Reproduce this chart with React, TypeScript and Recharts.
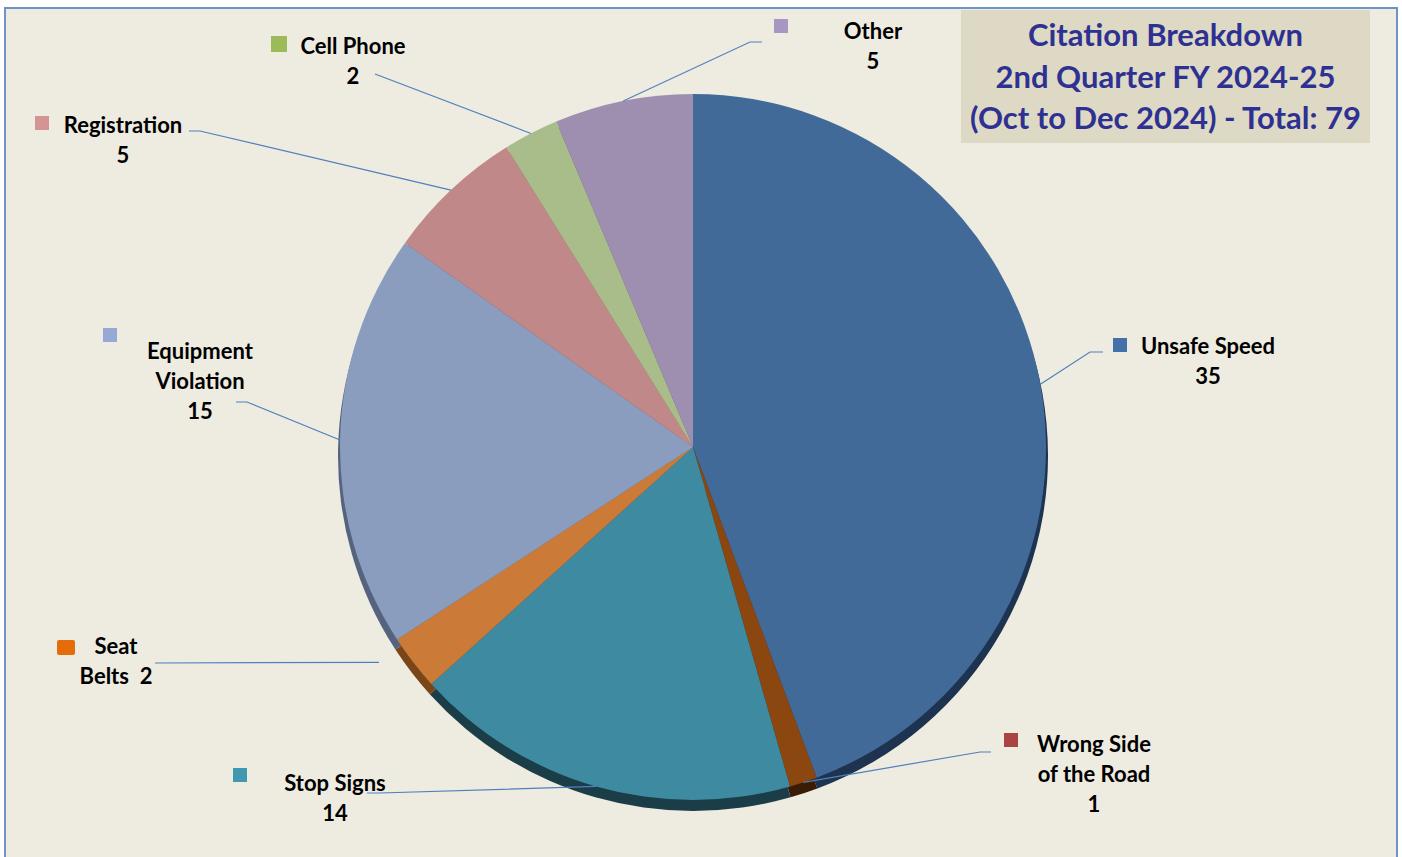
import { PieChart, Pie, Cell } from "recharts";

const categories = [
  "Unsafe Speed",
  "Wrong Side of the Road",
  "Stop Signs",
  "Seat Belts",
  "Equipment Violation",
  "Registration",
  "Cell Phone",
  "Other",
];
const citations = [35, 1, 14, 2, 15, 5, 2, 5];
const labelLines = [
  ["Unsafe Speed"],
  ["Wrong Side", "of the Road"],
  ["Stop Signs"],
  ["Seat", "Belts"],
  ["Equipment", "Violation"],
  ["Registration"],
  ["Cell Phone"],
  ["Other"],
];
const titleLines = [
  "Citation Breakdown",
  "2nd Quarter FY 2024-25",
  "(Oct to Dec 2024) - Total: 79",
];

const sliceColors = ["#426a98", "#8c4710", "#3e8aa0", "#cb7a38", "#8a9dbe", "#c08888", "#a9bd8a", "#9e8fb0"];
const shadowColors = ["#1e3350", "#3a1c06", "#1b3d47", "#7a4518", "#56637e", "#7d5656", "#6d7a58", "#655a72"];
const legendColors = ["#4472a8", "#a94442", "#4199b1", "#e46c0a", "#95a9d4", "#d49494", "#9bbb59", "#a896c2"];

// label placement: marker box, text centre, leader line bends
const labelLayout = [
  { box: [1113, 338, 14, 14], tx: 1208, ty: 345, pts: [[1090, 352], [1103, 352]] },
  { box: [1004, 733, 14, 14], tx: 1094, ty: 743, pts: [[980, 752], [991, 752]] },
  { box: [233, 768, 14, 14], tx: 335, ty: 782, pts: [[380, 793], [367, 793]] },
  { box: [57, 640, 18, 15], tx: 116, ty: 645, pts: [[155, 663]], inline: true, edge: 379 },
  { box: [103, 328, 14, 14], tx: 200, ty: 350, pts: [[247, 402], [236, 402]] },
  { box: [35, 116, 14, 14], tx: 123, ty: 124, pts: [[200, 131], [189, 131]] },
  { box: [271, 36, 16, 16], tx: 353, ty: 45, pts: [[375, 74]] },
  { box: [774, 19, 14, 14], tx: 873, ty: 30, pts: [[750, 42], [762, 42]] },
];

const data = categories.map((name, i) => ({ name, value: citations[i] }));
const RAD = Math.PI / 180;
const FONT = "Lato, 'Open Sans', sans-serif";

function renderLabel(props: any) {
  const { cx, cy, midAngle, outerRadius, index } = props;
  const lay = labelLayout[index];
  let sx = cx + outerRadius * Math.cos(-midAngle * RAD);
  const sy = cy + outerRadius * Math.sin(-midAngle * RAD);
  if (lay.edge) sx = lay.edge;
  const pts = [[sx, sy], ...lay.pts].map((p) => p.join(",")).join(" ");
  const lines = lay.inline
    ? [labelLines[index][0], `${labelLines[index][1]}\u00a0\u00a0${citations[index]}`]
    : [...labelLines[index], String(citations[index])];
  return (
    <g key={`lbl-${index}`}>
      <polyline points={pts} fill="none" stroke="#4f81bd" strokeWidth={1.2} />
      <rect
        x={lay.box[0]}
        y={lay.box[1]}
        width={lay.box[2]}
        height={lay.box[3]}
        rx={lay.inline ? 2 : 0}
        fill={legendColors[index]}
      />
      {lines.map((t, j) => (
        <text
          key={j}
          x={lay.tx}
          y={lay.ty + j * 30}
          textAnchor="middle"
          dominantBaseline="central"
          fontFamily={FONT}
          fontWeight="bold"
          fontSize={22}
          fill="#000"
        >
          {t}
        </text>
      ))}
    </g>
  );
}

export default function App() {
  return (
    <div
      style={{
        position: "absolute",
        left: 0,
        top: 0,
        width: 1402,
        height: 857,
        background: "#fff",
        overflow: "hidden",
      }}
    >
      <div
        style={{
          position: "absolute",
          left: 4,
          top: 7,
          width: 1390,
          height: 870,
          background: "#eeebe0",
          border: "2px solid #6f93c8",
        }}
      />
      <div
        style={{
          position: "absolute",
          left: 961,
          top: 10,
          width: 409,
          height: 133,
          background: "#ddd9c4",
          color: "#2e3192",
          fontFamily: FONT,
          fontWeight: "bold",
          fontSize: 31,
          lineHeight: "41.5px",
          textAlign: "center",
          paddingTop: 4,
          boxSizing: "border-box",
          whiteSpace: "nowrap",
        }}
      >
        {titleLines.map((t) => (
          <div key={t}>{t}</div>
        ))}
      </div>
      <div style={{ position: "absolute", left: 0, top: 0 }}>
        <PieChart width={1402} height={857} margin={{ top: 0, right: 0, bottom: 0, left: 0 }}>
          <Pie
            data={data}
            dataKey="value"
            cx={693}
            cy={456}
            outerRadius={355}
            startAngle={90}
            endAngle={-270}
            stroke="none"
            isAnimationActive={false}
          >
            {data.map((d, i) => (
              <Cell key={d.name} fill={shadowColors[i]} />
            ))}
          </Pie>
          <Pie
            data={data}
            dataKey="value"
            cx={693}
            cy={447}
            outerRadius={353}
            startAngle={90}
            endAngle={-270}
            stroke="none"
            label={renderLabel}
            labelLine={false}
            isAnimationActive={false}
          >
            {data.map((d, i) => (
              <Cell key={d.name} fill={sliceColors[i]} />
            ))}
          </Pie>
        </PieChart>
      </div>
    </div>
  );
}
